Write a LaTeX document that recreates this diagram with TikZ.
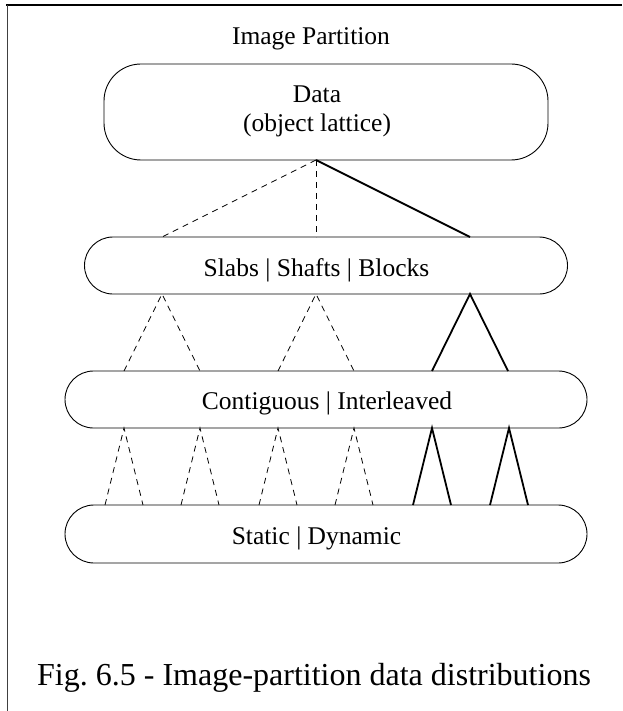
\documentclass[tikz,border=0pt]{standalone}
\usepackage{fontspec}
\setmainfont{Liberation Serif}
\frenchspacing
\begin{document}
\begin{tikzpicture}[x=1pt,y=-1pt,
  box/.style={draw, line width=0.9pt, inner sep=0pt},
  lbl/.style={font=\fontsize{25.5}{30}\selectfont, inner sep=0pt, anchor=base},
  solidlink/.style={line width=1.8pt},
  dashlink/.style={line width=0.8pt, dash pattern=on 6pt off 5pt}]
\useasboundingbox (0,0) rectangle (622,711);
\fill[white] (0,0) rectangle (622,711);

% frame lines (top and left)
\draw[line width=2pt] (6,5.5) -- (622,5.5);
\draw[line width=1pt, black!75] (7,5) -- (7,711);

% title
\node[lbl] (title) at (311,45) {Image Partition};

% level boxes
\node[box, minimum width=444pt, minimum height=96pt, rounded corners=37pt] (data) at (326,112) {};
\node[box, minimum width=483pt, minimum height=57pt, rounded corners=28.5pt] (slabs) at (326,265.5) {};
\node[box, minimum width=522pt, minimum height=57pt, rounded corners=28.5pt] (contig) at (326,399.5) {};
\node[box, minimum width=522pt, minimum height=58pt, rounded corners=29pt] (static) at (326,534) {};

% box labels
\node[lbl] (datatxt) at (317,103) {Data};
\node[lbl] (datasub) at (317,132) {(object lattice)};
\node[lbl] (slabstxt) at (316.5,276) {Slabs | Shafts | Blocks};
\node[lbl] (contigtxt) at (327,409) {Contiguous | Interleaved};
\node[lbl] (statictxt) at (316.5,544) {Static | Dynamic};

% first fan: Data -> Slabs
\coordinate (d0) at (316,160);
\coordinate (s1) at (162,237);
\coordinate (s2) at (316,237);
\coordinate (s3) at (470,237);
\draw[dashlink] (d0) -- (s1);
\draw[dashlink] (d0) -- (s2);
\draw[solidlink] (d0) -- (s3);

% second level: Slabs -> Contiguous
\foreach \i/\x in {1/162,2/316,3/470}{
  \coordinate (sa\i) at (\x,294);
  \coordinate (cl\i) at (\x-38,371);
  \coordinate (cr\i) at (\x+38,371);
}
\draw[dashlink] (cl1) -- (sa1) -- (cr1);
\draw[dashlink] (cl2) -- (sa2) -- (cr2);
\draw[solidlink] (cl3) -- (sa3) -- (cr3);

% third level: Contiguous -> Static
\foreach \i/\x in {1/124,2/200,3/278,4/354,5/432,6/509}{
  \coordinate (ca\i) at (\x,428);
  \coordinate (tl\i) at (\x-19,505);
  \coordinate (tr\i) at (\x+19,505);
}
\foreach \i in {1,2,3,4}{
  \draw[dashlink] (tl\i) -- (ca\i) -- (tr\i);
}
\foreach \i in {5,6}{
  \draw[solidlink] (tl\i) -- (ca\i) -- (tr\i);
}

% caption
\node[font=\fontsize{32}{38}\selectfont, inner sep=0pt, anchor=base west] (caption) at (37,685) {Fig. 6.5 - Image-partition data distributions};
\end{tikzpicture}
\end{document}
